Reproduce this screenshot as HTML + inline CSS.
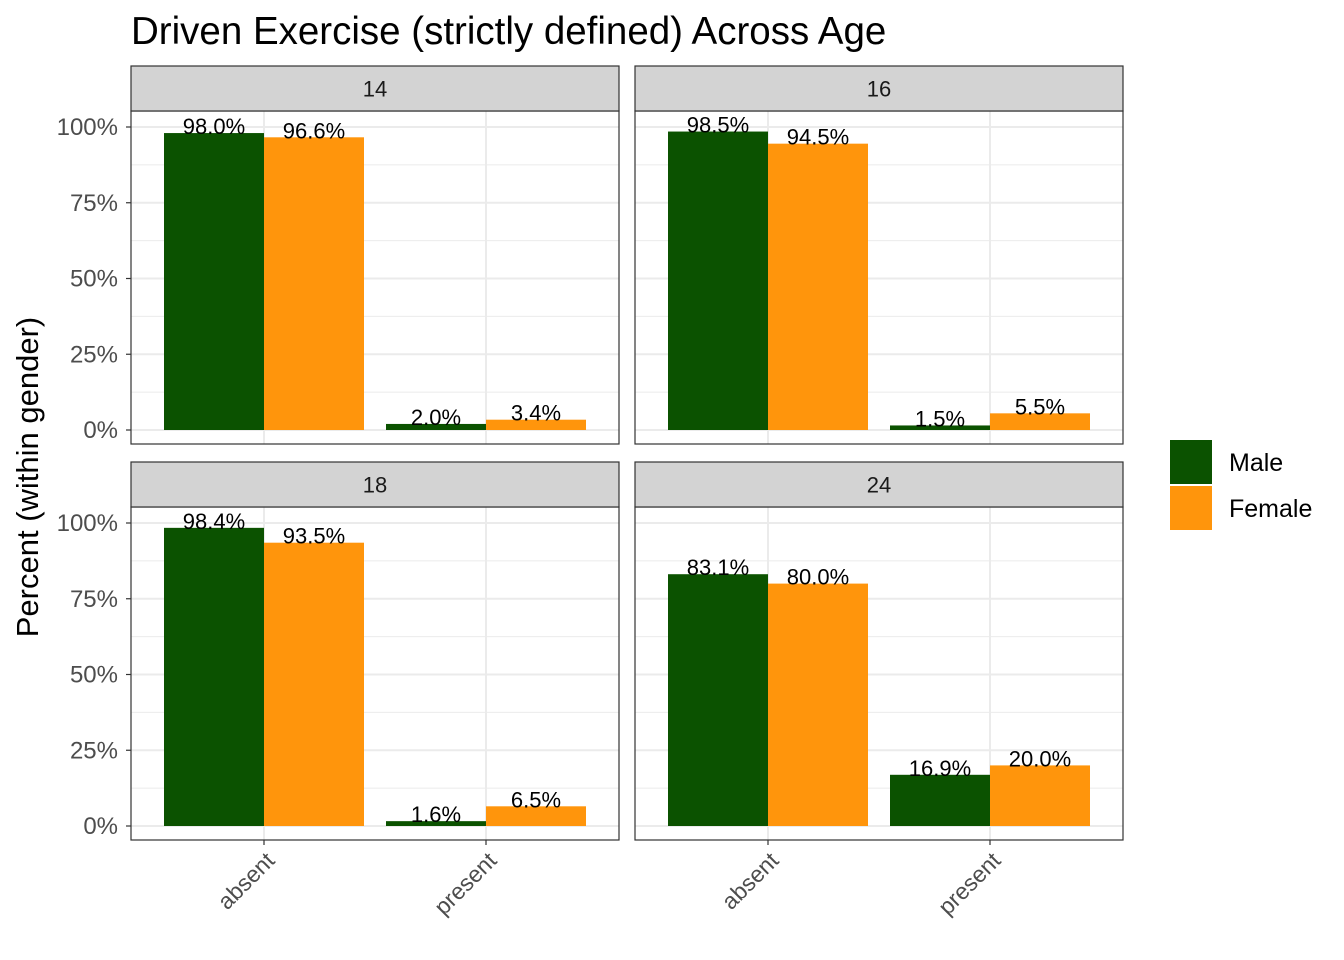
<!DOCTYPE html>
<html><head><meta charset="utf-8"><style>
body{margin:0;background:#fff;}
svg{display:block;font-family:"Liberation Sans",Arial,sans-serif;}
</style></head><body>
<svg id="chart" width="1344" height="960"></svg>
<script>
const ages = ["14","16","18","24"];
const categories = ["absent","present"];
const genders = ["Male","Female"];
const maleValues = [[98.0,2.0],[98.5,1.5],[98.4,1.6],[83.1,16.9]];
const femaleValues = [[96.6,3.4],[94.5,5.5],[93.5,6.5],[80.0,20.0]];
const yTicks = [0,25,50,75,100];
const yTickLabels = ["0%","25%","50%","75%","100%"];

const NS="http://www.w3.org/2000/svg";
const svg=document.getElementById('chart');
function mk(tag,attrs,parent,text){const e=document.createElementNS(NS,tag);for(const k in attrs)e.setAttribute(k,attrs[k]);if(text!==undefined)e.textContent=text;(parent||svg).appendChild(e);return e;}
const colors=["#0B5200","#FF950C"];
const panels=[{x:131,y:111},{x:635,y:111},{x:131,y:507},{x:635,y:507}];
const PW=488,PH=333,STRIP=45;
const title=mk('text',{x:131,y:44,'font-size':38.5,fill:'#000'},svg,"Driven Exercise (strictly defined) Across Age");


ages.forEach((age,pi)=>{
  const p=panels[pi];
  const g=mk('g',{});
  
  
  const yS=v=>p.y+319-v*3.03;
  const xS=i=>p.x+133+i*222;
  [12.5,37.5,62.5,87.5].forEach(v=>{mk('line',{x1:p.x,x2:p.x+PW,y1:yS(v),y2:yS(v),stroke:'#EBEBEB','stroke-width':1},g);});
  yTicks.forEach(v=>{mk('line',{x1:p.x,x2:p.x+PW,y1:yS(v),y2:yS(v),stroke:'#EBEBEB','stroke-width':2},g);});
  categories.forEach((c,i)=>{mk('line',{x1:xS(i),x2:xS(i),y1:p.y,y2:p.y+PH,stroke:'#EBEBEB','stroke-width':2},g);});
  categories.forEach((c,i)=>{
    [maleValues,femaleValues].forEach((arr,gi)=>{
      const v=arr[pi][i];
      const x=xS(i)-100+gi*100;
      const r=mk('rect',{x:x,y:yS(v),width:100,height:yS(0)-yS(v),fill:colors[gi]},g);
      
      
      const t=mk('text',{x:x+50,y:yS(v)+1,'font-size':22,'text-anchor':'middle',fill:'#000'},g,v.toFixed(1)+"%");
      
      
    });
  });
  mk('rect',{x:p.x,y:p.y,width:PW,height:PH,fill:'none',stroke:'#333','stroke-width':1.2},g);
  const s=mk('rect',{x:p.x,y:p.y-STRIP,width:PW,height:STRIP,fill:'#D3D3D3',stroke:'#333','stroke-width':1.2},g);
  
  mk('text',{x:p.x+PW/2,y:p.y-STRIP/2+8,'font-size':22,'text-anchor':'middle',fill:'#1A1A1A'},g,age);
  if(pi%2===0){
    yTicks.forEach((v,k)=>{
      mk('line',{x1:p.x-5,x2:p.x,y1:yS(v),y2:yS(v),stroke:'#333','stroke-width':1.2},g);
      const t=mk('text',{x:p.x-13,y:yS(v)+8,'font-size':24,'text-anchor':'end',fill:'#4D4D4D'},g,yTickLabels[k]);
      
    });
  }
  if(pi>=2){
    categories.forEach((c,i)=>{
      mk('line',{x1:xS(i),x2:xS(i),y1:p.y+PH,y2:p.y+PH+5,stroke:'#333','stroke-width':1.2},g);
      const ax=xS(i)+12, ay=p.y+PH+22;
      const t=mk('text',{x:ax,y:ay,'font-size':23,'text-anchor':'end',fill:'#4D4D4D',transform:`rotate(-45 ${ax} ${ay})`},g,c);
      
    });
  }
});
const yt=mk('text',{x:38,y:477,'font-size':31,'text-anchor':'middle',fill:'#000',transform:'rotate(-90 38 477)'},svg,"Percent (within gender)");

genders.forEach((gname,gi)=>{
  const lg=mk('g',{});
  
  
  mk('rect',{x:1170,y:440+gi*46,width:42,height:44,fill:colors[gi]},lg);
  mk('text',{x:1229,y:471+gi*46,'font-size':25,fill:'#000'},lg,gname);
});
</script>
</body></html>
